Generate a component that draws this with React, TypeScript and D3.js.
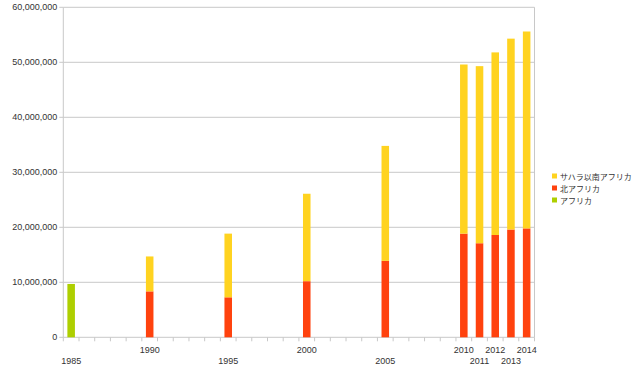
import React from "react";
import * as d3 from "d3";

const years = d3.range(1985, 2015);
const labelYears = [1985, 1990, 1995, 2000, 2005, 2010, 2011, 2012, 2013, 2014];
const dataYears = [1985, 1990, 1995, 2000, 2005, 2010, 2011, 2012, 2013, 2014];
const africa = [9700000, 0, 0, 0, 0, 0, 0, 0, 0, 0];
const northAfrica = [0, 8350000, 7270000, 10200000, 13900000, 18850000, 17100000, 18600000, 19600000, 19800000];
const subSaharan = [0, 6350000, 11580000, 15900000, 20900000, 30750000, 32200000, 33200000, 34700000, 35800000];
const yTicks = [0, 10000000, 20000000, 30000000, 40000000, 50000000, 60000000];
const seriesNames = ["サハラ以南アフリカ", "北アフリカ", "アフリカ"];
const seriesColors = ["#ffd320", "#ff420e", "#aecf00"];

export default function App() {
  const W = 640, H = 377;
  const left = 63.3, right = 534.5, top = 7.3, bottom = 337.3;
  const x = d3.scaleBand<number>().domain(years).range([left, right]).paddingInner(0).paddingOuter(0);
  const y = d3.scaleLinear().domain([0, 60000000]).range([bottom, top]);
  const bw = x.bandwidth() * 0.48;
  const fmt = d3.format(",");
  const font = "'Liberation Sans', Arial, 'Noto Sans CJK JP', sans-serif";

  const bars: React.ReactNode[] = [];
  dataYears.forEach((yr, i) => {
    const cx = (x(yr) as number) + x.bandwidth() / 2;
    const stacks: [number, string][] = [
      [africa[i], seriesColors[2]],
      [northAfrica[i], seriesColors[1]],
      [subSaharan[i], seriesColors[0]],
    ];
    let base = 0;
    stacks.forEach(([v, c], j) => {
      if (v > 0) {
        bars.push(
          <rect key={yr + "-" + j} x={cx - bw / 2} y={y(base + v)} width={bw} height={y(base) - y(base + v)} fill={c} />
        );
        base += v;
      }
    });
  });

  return (
    <svg width={W} height={H} style={{ position: "absolute", left: 0, top: 0, fontFamily: font }}>
      <rect x={0} y={0} width={W} height={H} fill="#fff" />
      {yTicks.map((t) => (
        <g key={t}>
          <line x1={left} x2={right} y1={y(t)} y2={y(t)} stroke="#c8c8c8" strokeWidth={1} />
          <line x1={left - 4} x2={left} y1={y(t)} y2={y(t)} stroke="#c8c8c8" strokeWidth={1} />
          <text x={left - 6} y={y(t) + 3} textAnchor="end" fontSize={9} fill="#333">{fmt(t)}</text>
        </g>
      ))}
      <line x1={left} x2={left} y1={top} y2={bottom} stroke="#c8c8c8" />
      <line x1={right} x2={right} y1={top} y2={bottom} stroke="#c8c8c8" />
      {years.concat([2015]).map((yr) => {
        const xx = yr === 2015 ? right : (x(yr) as number);
        return <line key={"t" + yr} x1={xx} x2={xx} y1={bottom} y2={bottom + 4} stroke="#c8c8c8" />;
      })}
      {bars}
      {labelYears.map((yr, i) => (
        <text key={"l" + yr} x={(x(yr) as number) + x.bandwidth() / 2} y={i % 2 === 0 ? 364 : 353} textAnchor="middle" fontSize={9} fill="#333">{yr}</text>
      ))}
      {seriesNames.map((n, i) => (
        <g key={n}>
          <rect x={552} y={173.5 + i * 12} width={5} height={5} fill={seriesColors[i]} />
          <text x={560} y={179.5 + i * 12} fontSize={8} fill="#333">{n}</text>
        </g>
      ))}
    </svg>
  );
}
